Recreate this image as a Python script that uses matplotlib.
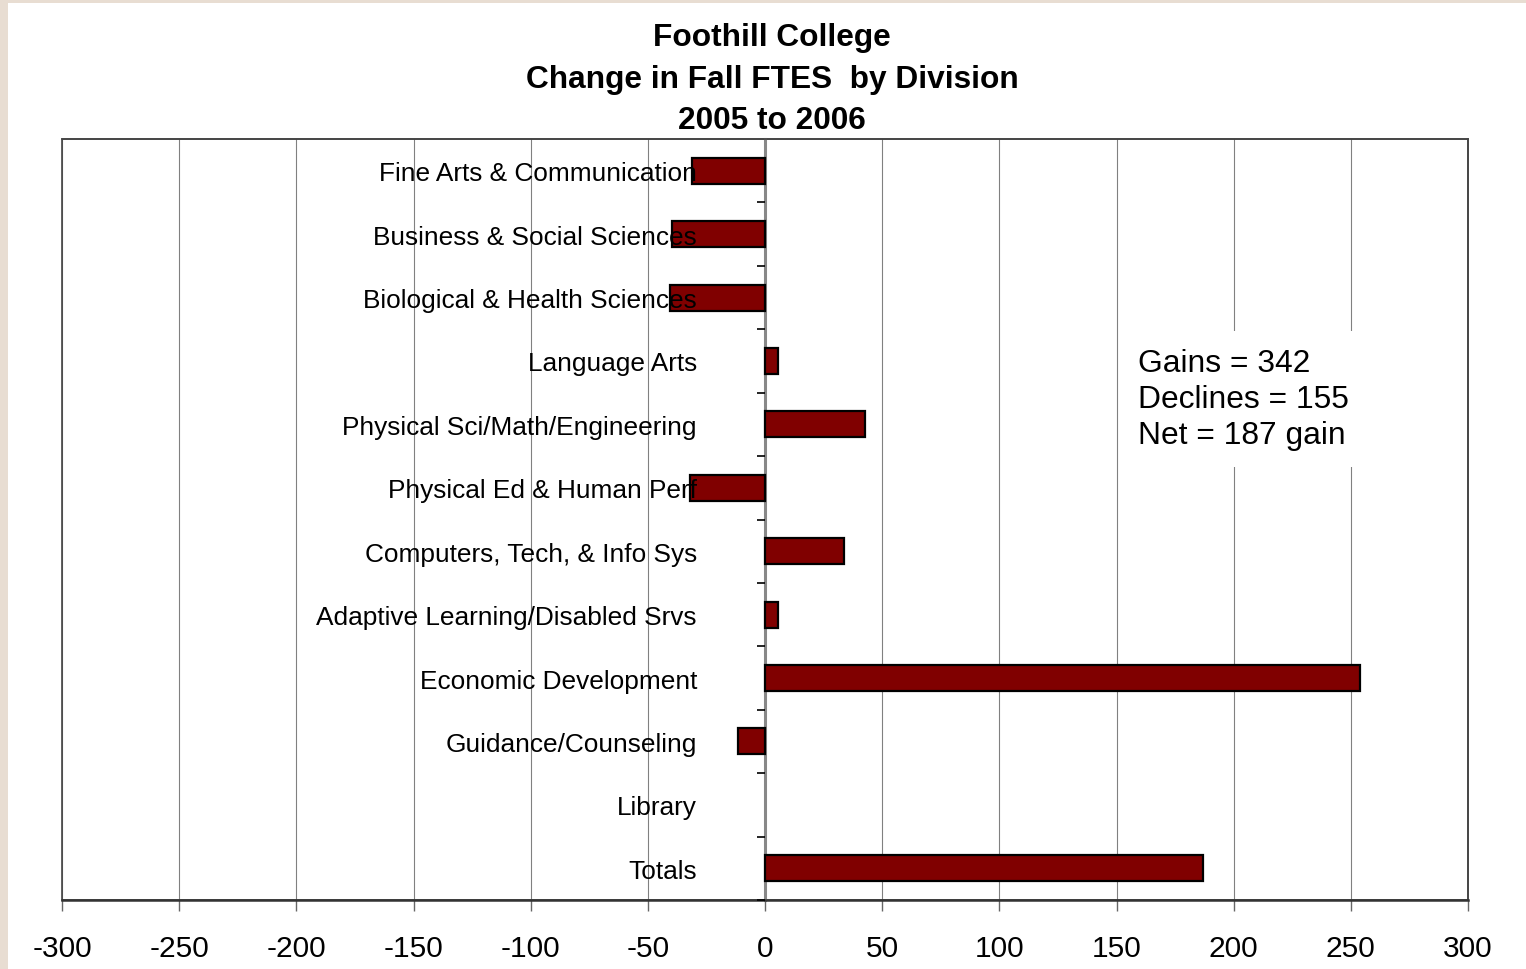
import numpy as np
import matplotlib.pyplot as plt
from matplotlib.patches import Rectangle
from matplotlib.ticker import FixedLocator

plt.rcParams['font.family'] = ['Liberation Sans', 'DejaVu Sans']

# datos
divisiones = ['Fine Arts & Communication', 'Business & Social Sciences',
              'Biological & Health Sciences', 'Language Arts',
              'Physical Sci/Math/Engineering', 'Physical Ed & Human Perf',
              'Computers, Tech, & Info Sys', 'Adaptive Learning/Disabled Srvs',
              'Economic Development', 'Guidance/Counseling', 'Library', 'Totals']
cambio = [-31.2, -39.7, -40.5, 5.75, 42.5, -32.0, 33.9, 5.75, 253.9, -11.6, 0, 187]
xticks = [-300, -250, -200, -150, -100, -50, 0, 50, 100, 150, 200, 250, 300]
resumen = 'Gains = 342\nDeclines = 155\nNet = 187 gain'
titulo = 'Foothill College\nChange in Fall FTES  by Division\n2005 to 2006'

fig = plt.figure(figsize=(15.26, 9.70), dpi=100)
fig.patch.set_facecolor('#E8DDD2')
fig.patches.append(Rectangle((8/1526, 0), 1, (970-4)/970, transform=fig.transFigure,
                             facecolor='white', edgecolor='none', zorder=-5))

ax = fig.add_axes([62/1526, 69/970, 1406/1526, 761/970])
ax.set_facecolor('none')

y = np.arange(len(divisiones))
bordes = [1.6 if v != 0 else 0 for v in cambio]  # Library = 0, sin barra
ax.barh(y, cambio, height=0.41, color='#800000', edgecolor='black', linewidth=bordes, zorder=2)

ax.set_xlim(-300, 300)
ax.set_ylim(len(divisiones) - 0.5, -0.5)
ax.set_xticks(xticks)
ax.set_xticklabels([str(t) for t in xticks], fontsize=21.5)
ax.tick_params(axis='x', direction='out', length=8, width=1, color='#666666', pad=16.5)
ax.grid(axis='x', color='#808080', linewidth=0.8, zorder=0)
ax.xaxis.set_zorder(0.5)

# eje vertical en x=0
ax.spines['left'].set_position(('data', 0))
ax.spines['left'].set_color('#888888')
ax.spines['left'].set_linewidth(2.2)
ax.spines['left'].set_zorder(1)
ax.set_yticks(y)
ax.set_yticklabels(divisiones, fontsize=18.9)
ax.yaxis.set_minor_locator(FixedLocator(np.arange(len(divisiones)) + 0.5))
ax.tick_params(axis='y', which='major', length=0, pad=49)
ax.tick_params(axis='y', which='minor', length=6, width=1.2, color='black')
ax.yaxis.set_zorder(4)

for s in ['top', 'right']:
    ax.spines[s].set_color('#444444')
    ax.spines[s].set_linewidth(1.2)
ax.spines['bottom'].set_color('#333333')
ax.spines['bottom'].set_linewidth(1.8)
# borde izquierdo del area de trazado
ax.add_patch(Rectangle((0, 0), 1, 1, transform=ax.transAxes, fill=False,
                       edgecolor='#444444', linewidth=1.2, zorder=1, clip_on=False))

ax.text(159, 3.6, resumen, fontsize=22.9, va='center', ha='left', linespacing=1.28,
        bbox=dict(facecolor='white', edgecolor='none', pad=12), zorder=3)

fig.text(0.506, 0.976, titulo, ha='center', va='top', fontsize=22.8,
         fontweight='bold', linespacing=1.5)

plt.savefig('out.png', dpi=100, facecolor=fig.get_facecolor())
